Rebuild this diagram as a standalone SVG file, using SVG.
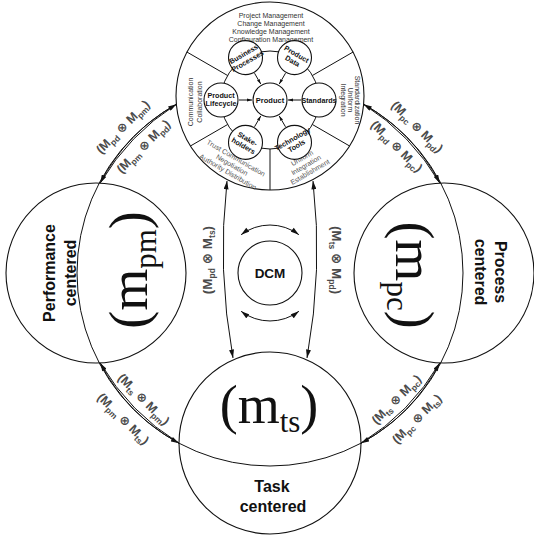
<svg xmlns="http://www.w3.org/2000/svg" width="534" height="536" viewBox="0 0 534 536">
  <defs>
    <marker id="ah" viewBox="0 0 10 6" refX="10" refY="3" markerWidth="9" markerHeight="5" markerUnits="userSpaceOnUse" orient="auto-start-reverse">
      <path d="M0,0 L10,3 L0,6 z" fill="#111"/>
    </marker>
    <marker id="ahs" viewBox="0 0 10 6" refX="10" refY="3" markerWidth="5" markerHeight="3.4" markerUnits="userSpaceOnUse" orient="auto">
      <path d="M0,0 L10,3 L0,6 z" fill="#111"/>
    </marker>
    <style>
      .ring { fill: none; stroke: #111; stroke-width: 1; }
      .node { fill: none; stroke: #111; stroke-width: 1.1; }
      .wnode { fill: #fff; stroke: #111; stroke-width: 1.1; }
      .ln { fill: none; stroke: #111; stroke-width: 1; }
      .big { font-family: "Liberation Serif", "Times New Roman", serif; font-size: 54px; fill: #111; text-anchor: middle; }
      .bsub { font-size: 31px; }
      .cap { font-family: "Liberation Sans", Arial, sans-serif; font-weight: bold; font-size: 16px; fill: #111; text-anchor: middle; }
      .lbl { font-family: "Liberation Sans", "DejaVu Sans", sans-serif; font-weight: bold; font-size: 12.5px; fill: #4a4a4a; text-anchor: middle; }
      .vl { font-size: 13.5px; }
      .sb { font-size: 8.5px; }
      .sm { font-family: "Liberation Sans", Arial, sans-serif; font-size: 7px; fill: #333; text-anchor: middle; }
      .gr { fill: #555; }
      .nd { font-family: "Liberation Sans", Arial, sans-serif; font-weight: bold; font-size: 7.2px; fill: #111; text-anchor: middle; }
    </style>
  </defs>

  <!-- outer ring joining the four models; its inner parts bound the model regions -->
  <g id="model-ring">
    <circle class="ring" cx="270" cy="273" r="193"/>
  </g>

  <!-- performance centered model -->
  <g id="performance">
    <circle class="node" cx="96" cy="273" r="90"/>
    <text class="cap" transform="translate(55,273) rotate(-90)"><tspan x="0" y="0">Performance</tspan><tspan x="0" y="21">centered</tspan></text>
    <text class="big" transform="translate(147,270) rotate(-90)">(m<tspan class="bsub" dy="9">pm</tspan><tspan dy="-9">)</tspan></text>
  </g>

  <!-- process centered model -->
  <g id="process">
    <circle class="node" cx="444" cy="273" r="90"/>
    <text class="cap" transform="translate(495,272) rotate(90)"><tspan x="0" y="0">Process</tspan><tspan x="0" y="20">centered</tspan></text>
    <text class="big" transform="translate(396,275) rotate(90)">(m<tspan class="bsub" dy="9">pc</tspan><tspan dy="-9">)</tspan></text>
  </g>

  <!-- task centered model -->
  <g id="task">
    <circle class="node" cx="270" cy="443" r="91"/>
    <text class="big" x="269" y="423">(m<tspan class="bsub" dy="9">ts</tspan><tspan dy="-9">)</tspan></text>
    <text class="cap" x="272" y="492">Task</text>
    <text class="cap" x="273" y="512">centered</text>
  </g>

  <!-- DCM core -->
  <g id="dcm">
    <circle class="node" cx="270" cy="273" r="32"/>
    <text class="cap" x="270" y="278" style="font-size:13.5px">DCM</text>
  </g>

  <!-- product model wheel -->
  <g id="product-model">
    <circle class="wnode" cx="270" cy="96" r="94"/>
    <circle class="ring" cx="270" cy="100" r="49"/>
    <!-- sector dividers -->
    <path class="ln" d="M227.6,75.5 L186.9,52 M312.4,75.5 L353.1,52 M312.4,124.5 L349.6,146 M227.6,124.5 L190.4,146 M270,149 L270,190"/>
    <!-- sector texts -->
    <text class="sm" x="271" y="18">Project Management</text>
    <text class="sm" x="271" y="26">Change Management</text>
    <text class="sm" x="271" y="34">Knowledge Management</text>
    <text class="sm" x="271" y="42">Configuration Management</text>
    <text class="sm" transform="translate(193,102) rotate(-90)"><tspan x="0" y="0">Communication</tspan><tspan x="0" y="9">Collaboration</tspan></text>
    <text class="sm" transform="translate(355,100) rotate(90)"><tspan x="0" y="0">Standardization</tspan><tspan x="0" y="7">Uniform</tspan><tspan x="0" y="14">Integration</tspan></text>
    <text class="sm gr" transform="translate(236,158) rotate(30)"><tspan x="0" y="2.5">Trust Communication</tspan><tspan x="0" y="10.5">Negotiation</tspan><tspan x="0" y="18.5">Authority Distribution</tspan></text>
    <text class="sm gr" transform="translate(302,158) rotate(-30)"><tspan x="0" y="2.5">Uniform</tspan><tspan x="0" y="10.5">Integration</tspan><tspan x="0" y="18.5">Establishment</tspan></text>
    <!-- feeds into Product -->
    <path class="ln" marker-end="url(#ahs)" d="M254.5,73.2 L260.75,84"/>
    <path class="ln" marker-end="url(#ahs)" d="M285.5,73.2 L279.25,84"/>
    <path class="ln" marker-end="url(#ahs)" d="M239,100 L252,100"/>
    <path class="ln" marker-end="url(#ahs)" d="M301,100 L288,100"/>
    <path class="ln" marker-end="url(#ahs)" d="M254.5,126.8 L260.75,116"/>
    <path class="ln" marker-end="url(#ahs)" d="M285.5,126.8 L279.25,116"/>
    <g id="product">
      <circle class="wnode" cx="270" cy="100" r="17"/>
      <text class="nd" x="270" y="102.6" style="font-size:7.5px">Product</text>
    </g>
    <g id="business-processes">
      <circle class="wnode" cx="245.5" cy="57.6" r="17"/>
      <text class="nd" transform="translate(245.5,57.6) rotate(-30)"><tspan x="0" y="-1.5">Business</tspan><tspan x="0" y="6.5">Processes</tspan></text>
    </g>
    <g id="product-data">
      <circle class="wnode" cx="294.5" cy="57.6" r="17"/>
      <text class="nd" transform="translate(294.5,57.6) rotate(30)"><tspan x="0" y="-1.5">Product</tspan><tspan x="0" y="6.5">Data</tspan></text>
    </g>
    <g id="product-lifecycle">
      <circle class="wnode" cx="221" cy="100" r="17"/>
      <text class="nd"><tspan x="221" y="98">Product</tspan><tspan x="221" y="106">Lifecycle</tspan></text>
    </g>
    <g id="standards">
      <circle class="wnode" cx="319" cy="100" r="17"/>
      <text class="nd" x="319" y="102.5">Standards</text>
    </g>
    <g id="stakeholders">
      <circle class="wnode" cx="245.5" cy="142.4" r="17"/>
      <text class="nd" transform="translate(245.5,142.4) rotate(30)"><tspan x="0" y="-1.5">Stake-</tspan><tspan x="0" y="6.5">holders</tspan></text>
    </g>
    <g id="technology-tools">
      <circle class="wnode" cx="294.5" cy="142.4" r="17"/>
      <text class="nd" transform="translate(294.5,142.4) rotate(-30)"><tspan x="0" y="-1.5">Technology</tspan><tspan x="0" y="6.5">Tools</tspan></text>
    </g>
  </g>

  <!-- connectors -->
  <g id="connectors">
    <!-- product <-> performance -->
    <path class="ln" marker-end="url(#ah)" d="M176.4,104.2 A193,193 0 0 0 100.2,183.1"/>
    <path class="ln" marker-end="url(#ah)" d="M100.2,183.1 A235,235 0 0 1 176.4,104.2"/>
    <!-- product <-> process -->
    <path class="ln" marker-end="url(#ah)" d="M363.6,104.2 A193,193 0 0 1 439.8,183.1"/>
    <path class="ln" marker-end="url(#ah)" d="M439.8,183.1 A235,235 0 0 0 363.6,104.2"/>
    <!-- performance <-> task -->
    <path class="ln" marker-end="url(#ah)" d="M100.2,362.9 A193,193 0 0 0 179,443.2"/>
    <path class="ln" marker-end="url(#ah)" d="M179,443.2 A235,235 0 0 1 100.2,362.9"/>
    <!-- process <-> task -->
    <path class="ln" marker-end="url(#ah)" d="M439.8,362.9 A193,193 0 0 1 361,443.2"/>
    <path class="ln" marker-end="url(#ah)" d="M361,443.2 A235,235 0 0 0 439.8,362.9"/>
    <!-- product <-> task -->
    <path class="ln" marker-start="url(#ah)" marker-end="url(#ah)" d="M227,181 Q217,270 233,358"/>
    <path class="ln" marker-start="url(#ah)" marker-end="url(#ah)" d="M313,181 Q323,270 307,358"/>
    <!-- DCM cycle -->
    <path class="ln" marker-start="url(#ah)" marker-end="url(#ah)" d="M241.1,234.7 A48,48 0 0 1 298.9,234.7"/>
    <path class="ln" marker-start="url(#ah)" marker-end="url(#ah)" d="M241.1,311.3 A48,48 0 0 0 298.9,311.3"/>

    <!-- connector labels -->
    <text class="lbl" transform="translate(123,127) rotate(-45)" y="4">(M<tspan class="sb" dy="3">pd</tspan><tspan dy="-3"> ⊗ M</tspan><tspan class="sb" dy="3">pm</tspan><tspan dy="-3">)</tspan></text>
    <text class="lbl" transform="translate(143.5,146.5) rotate(-45)" y="4">(M<tspan class="sb" dy="3">pm</tspan><tspan dy="-3"> ⊗ M</tspan><tspan class="sb" dy="3">pd</tspan><tspan dy="-3">)</tspan></text>
    <text class="lbl" transform="translate(417,127) rotate(45)" y="4">(M<tspan class="sb" dy="3">pc</tspan><tspan dy="-3"> ⊗ M</tspan><tspan class="sb" dy="3">pd</tspan><tspan dy="-3">)</tspan></text>
    <text class="lbl" transform="translate(396.5,146.5) rotate(45)" y="4">(M<tspan class="sb" dy="3">pd</tspan><tspan dy="-3"> ⊗ M</tspan><tspan class="sb" dy="3">pc</tspan><tspan dy="-3">)</tspan></text>
    <text class="lbl" transform="translate(143.5,399.5) rotate(45)" y="4">(M<tspan class="sb" dy="3">ts</tspan><tspan dy="-3"> ⊗ M</tspan><tspan class="sb" dy="3">pm</tspan><tspan dy="-3">)</tspan></text>
    <text class="lbl" transform="translate(123,419) rotate(45)" y="4">(M<tspan class="sb" dy="3">pm</tspan><tspan dy="-3"> ⊗ M</tspan><tspan class="sb" dy="3">ts</tspan><tspan dy="-3">)</tspan></text>
    <text class="lbl" transform="translate(396.5,399.5) rotate(-45)" y="4">(M<tspan class="sb" dy="3">ts</tspan><tspan dy="-3"> ⊗ M</tspan><tspan class="sb" dy="3">pc</tspan><tspan dy="-3">)</tspan></text>
    <text class="lbl" transform="translate(417,419) rotate(-45)" y="4">(M<tspan class="sb" dy="3">pc</tspan><tspan dy="-3"> ⊗ M</tspan><tspan class="sb" dy="3">ts</tspan><tspan dy="-3">)</tspan></text>
    <text class="lbl vl" transform="translate(207,260) rotate(-90)" y="4.5">(M<tspan class="sb" dy="3">pd</tspan><tspan dy="-3"> ⊗ M</tspan><tspan class="sb" dy="3">ts</tspan><tspan dy="-3">)</tspan></text>
    <text class="lbl vl" transform="translate(336,260) rotate(90)" y="4.5">(M<tspan class="sb" dy="3">ts</tspan><tspan dy="-3"> ⊗ M</tspan><tspan class="sb" dy="3">pd</tspan><tspan dy="-3">)</tspan></text>
  </g>
</svg>
